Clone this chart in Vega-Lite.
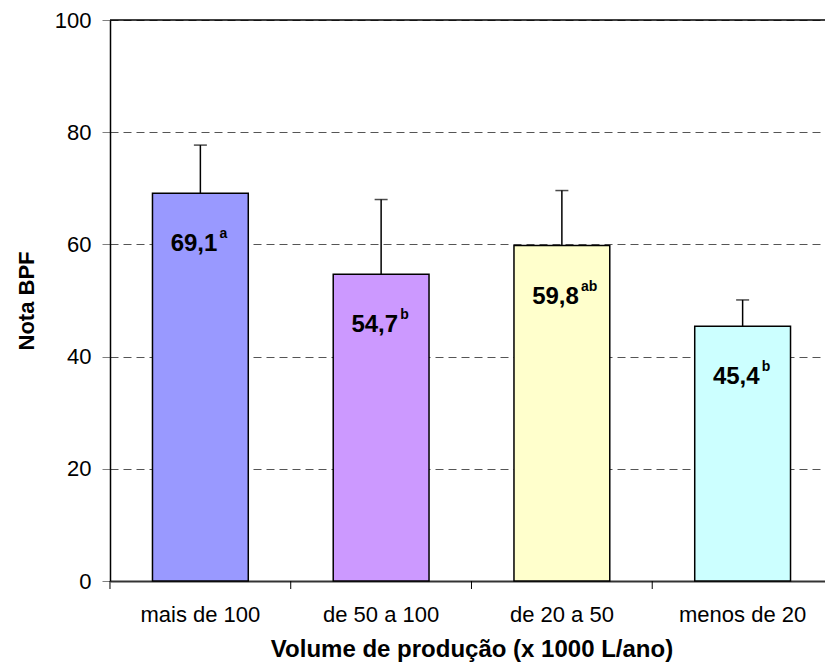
{
  "$schema": "https://vega.github.io/schema/vega-lite/v6.json",
  "width": 723,
  "height": 561,
  "autosize": {"type": "none"},
  "padding": {"left": 110, "top": 20, "right": -8, "bottom": 85},
  "background": "white",
  "config": {"view": {"stroke": null}, "font": "Liberation Sans"},
  "data": {
    "values": [
      {"volume": "mais de 100", "nota": 69.1, "upper": 77.7, "rotulo": "69,1", "letra": "a"},
      {"volume": "de 50 a 100", "nota": 54.7, "upper": 68.0, "rotulo": "54,7", "letra": "b"},
      {"volume": "de 20 a 50", "nota": 59.8, "upper": 69.6, "rotulo": "59,8", "letra": "ab"},
      {"volume": "menos de 20", "nota": 45.4, "upper": 50.1, "rotulo": "45,4", "letra": "b"}
    ]
  },
  "layer": [
    {
      "mark": {"type": "bar", "stroke": "black", "strokeWidth": 1.5},
      "encoding": {
        "x": {
          "field": "volume", "type": "nominal", "sort": null,
          "scale": {"paddingInner": 0.47, "paddingOuter": 0.235},
          "axis": {
            "title": "Volume de produção (x 1000 L/ano)",
            "titleFontSize": 24, "titleFontWeight": "bold", "titleColor": "black", "titlePadding": 12,
            "labelFontSize": 22, "labelColor": "black", "labelPadding": 23, "labelAngle": 0,
            "ticks": false,
            "domainColor": "#333333", "domainWidth": 2, "grid": false
          }
        },
        "y": {
          "field": "nota", "type": "quantitative",
          "scale": {"domain": [0, 100], "nice": false},
          "axis": {
            "title": "Nota BPF",
            "titleFontSize": 22, "titleFontWeight": "bold", "titleColor": "black", "titlePadding": 16,
            "values": [0, 20, 40, 60, 80, 100],
            "labelFontSize": 22, "labelColor": "black", "labelPadding": 11,
            "tickSize": 8, "tickColor": "#808080",
            "domainColor": "black", "domainWidth": 1.5,
            "grid": true, "gridDash": [8, 5], "gridColor": "#555555", "gridWidth": 1
          }
        },
        "color": {
          "field": "volume", "type": "nominal", "legend": null,
          "scale": {
            "domain": ["mais de 100", "de 50 a 100", "de 20 a 50", "menos de 20"],
            "range": ["#9999FF", "#CC99FF", "#FFFFCC", "#CCFFFF"]
          }
        }
      }
    },
    {
      "mark": {"type": "rule", "color": "black", "strokeWidth": 1.5},
      "encoding": {
        "x": {"field": "volume", "type": "nominal", "sort": null},
        "y": {"field": "nota", "type": "quantitative"},
        "y2": {"field": "upper"}
      }
    },
    {
      "mark": {"type": "tick", "color": "black", "thickness": 1.5, "size": 13},
      "encoding": {
        "x": {"field": "volume", "type": "nominal", "sort": null},
        "y": {"field": "upper", "type": "quantitative"}
      }
    },
    {
      "mark": {"type": "rule", "color": "black", "strokeWidth": 1, "xOffset": -42.5, "y2Offset": 8},
      "encoding": {
        "x": {"field": "volume", "type": "nominal", "sort": null, "bandPosition": 0},
        "y": {"datum": 0},
        "y2": {"datum": 0}
      }
    },
    {
      "mark": {"type": "text", "align": "right", "baseline": "alphabetic", "dx": 17, "dy": 58, "fontSize": 24, "fontWeight": "bold", "color": "black"},
      "encoding": {
        "x": {"field": "volume", "type": "nominal", "sort": null},
        "y": {"field": "nota", "type": "quantitative"},
        "text": {"field": "rotulo"}
      }
    },
    {
      "mark": {"type": "text", "align": "left", "baseline": "alphabetic", "dx": 19, "dy": 45, "fontSize": 14, "fontWeight": "bold", "color": "black"},
      "encoding": {
        "x": {"field": "volume", "type": "nominal", "sort": null},
        "y": {"field": "nota", "type": "quantitative"},
        "text": {"field": "letra"}
      }
    },
    {
      "data": {"values": [{"topo": 100}]},
      "mark": {"type": "rule", "color": "black", "strokeWidth": 1.5},
      "encoding": {
        "y": {"field": "topo", "type": "quantitative"}
      }
    }
  ]
}
